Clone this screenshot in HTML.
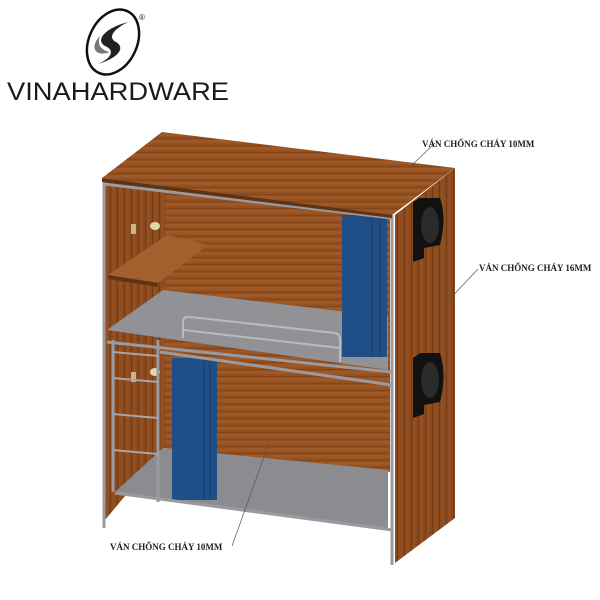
<!DOCTYPE html>
<html><head><meta charset="utf-8"><style>body{margin:0;background:#fff}svg{display:block}</style></head>
<body>
<svg width="600" height="600" viewBox="0 0 600 600" xmlns="http://www.w3.org/2000/svg">
<defs>
<pattern id="wood" width="300" height="7" patternUnits="userSpaceOnUse">
<rect width="300" height="7" fill="#94501f"/>
<rect y="0" width="300" height="3" fill="#9c5826"/>
<rect y="5" width="300" height="1" fill="#84451a"/>
</pattern>
<pattern id="woodv" width="7" height="300" patternUnits="userSpaceOnUse">
<rect width="7" height="300" fill="#8a4a1d"/>
<rect x="0" width="3" height="300" fill="#925022"/>
<rect x="5" width="1" height="300" fill="#743b14"/>
</pattern>
</defs>
<!-- logo -->
<g transform="rotate(25 113 42)">
<ellipse cx="113" cy="42" rx="24" ry="34" fill="none" stroke="#111" stroke-width="2.5"/>
</g>
<path d="M128 22 C105 28 95 40 105 46 C115 50 112 58 98 64 C118 58 126 48 116 42 C108 38 112 30 128 22Z" fill="#222"/>
<path d="M100 36 C90 46 94 58 110 52 C100 50 97 44 100 36Z" fill="#777"/>
<text x="139" y="20" font-family="Liberation Sans,sans-serif" font-size="8" fill="#111">®</text>
<text x="7" y="100" font-family="Liberation Sans,sans-serif" font-size="25" fill="#1a1a1a" textLength="222" lengthAdjust="spacingAndGlyphs">VINAHARDWARE</text>

<!-- back wall -->
<polygon points="163,185 390,210 390,472 163,448" fill="url(#wood)"/>
<!-- left inner side -->
<polygon points="105,180 165,188 165,448 105,520" fill="url(#woodv)"/>
<!-- lower mattress -->
<polygon points="115,492 163,448 388,470 388,528" fill="#8c8c90"/>
<!-- upper mattress -->
<polygon points="107,330 163,290 388,317 388,370" fill="#929296"/>
<!-- guard rail -->
<path d="M183,338 L183,322 Q183,316 190,317 L335,333 Q340,334 340,340 L340,362" fill="none" stroke="#bbb" stroke-width="2"/>
<line x1="183" y1="330" x2="340" y2="348" stroke="#bbb" stroke-width="2"/>
<!-- shelf -->
<polygon points="108,275 167,235 208,245 158,283" fill="#a0612e"/>
<polygon points="108,275 158,283 158,287 108,279" fill="#5e3412"/>
<!-- lamps -->
<rect x="131" y="224" width="5" height="10" fill="#c9b58a"/>
<ellipse cx="155" cy="226" rx="5" ry="4" fill="#e0d8a8"/>
<rect x="131" y="372" width="5" height="10" fill="#c9b58a"/>
<ellipse cx="155" cy="372" rx="5" ry="4" fill="#e0d8a8"/>
<!-- curtains -->
<rect x="342" y="215" width="45" height="142" fill="#1f4f86"/>
<line x1="372" y1="215" x2="372" y2="357" stroke="#173e6b"/><line x1="380" y1="215" x2="380" y2="357" stroke="#173e6b"/>
<rect x="172" y="358" width="45" height="142" fill="#1f4f86"/>
<line x1="204" y1="358" x2="204" y2="500" stroke="#173e6b"/><line x1="210" y1="358" x2="210" y2="500" stroke="#173e6b"/>
<!-- frame -->
<g stroke="#9a9aa0" stroke-width="3" fill="none">
<line x1="104" y1="180" x2="104" y2="528"/>
<line x1="158" y1="340" x2="158" y2="502"/>
<line x1="392" y1="215" x2="392" y2="565"/>
<line x1="104" y1="184" x2="392" y2="218"/>
<line x1="107" y1="342" x2="392" y2="372"/>
<line x1="160" y1="352" x2="392" y2="385"/>
<line x1="115" y1="493" x2="392" y2="530"/>
<line x1="113" y1="340" x2="113" y2="492"/>
</g>
<g stroke="#a5a5aa" stroke-width="2">
<line x1="113" y1="352" x2="158" y2="356"/><line x1="113" y1="378" x2="158" y2="382"/>
<line x1="113" y1="414" x2="158" y2="418"/><line x1="113" y1="450" x2="158" y2="454"/>
</g>
<!-- top panel -->
<polygon points="102,178 162,132 455,168 392,215" fill="url(#wood)"/>
<polygon points="102,178 392,215 392,218 102,182" fill="#5e3412"/>
<!-- right side panel -->
<polygon points="395,215 455,168 455,518 395,563" fill="url(#woodv)"/>
<!-- speakers -->
<path d="M413,202 L420,198 L440,198 Q447,218 440,245 L424,248 L424,258 L413,262Z" fill="#111"/>
<ellipse cx="430" cy="225" rx="9" ry="18" fill="#2a2a2a"/>
<path d="M413,358 L420,353 L440,353 Q447,375 440,402 L424,405 L424,414 L413,418Z" fill="#111"/>
<ellipse cx="430" cy="380" rx="9" ry="18" fill="#2a2a2a"/>
<!-- leaders -->
<g stroke="#555" stroke-width="0.7">
<line x1="412" y1="165" x2="435" y2="143"/>
<line x1="446" y1="303" x2="478" y2="269"/>
<line x1="270" y1="440" x2="232" y2="546"/>
</g>
<g font-family="Liberation Serif,serif" font-size="9" font-weight="bold" fill="#222">
<text x="422" y="147">VÁN CHỐNG CHÁY 10MM</text>
<text x="479" y="271">VÁN CHỐNG CHÁY 16MM</text>
<text x="110" y="550">VÁN CHỐNG CHÁY 10MM</text>
</g>
</svg>
</body></html>
